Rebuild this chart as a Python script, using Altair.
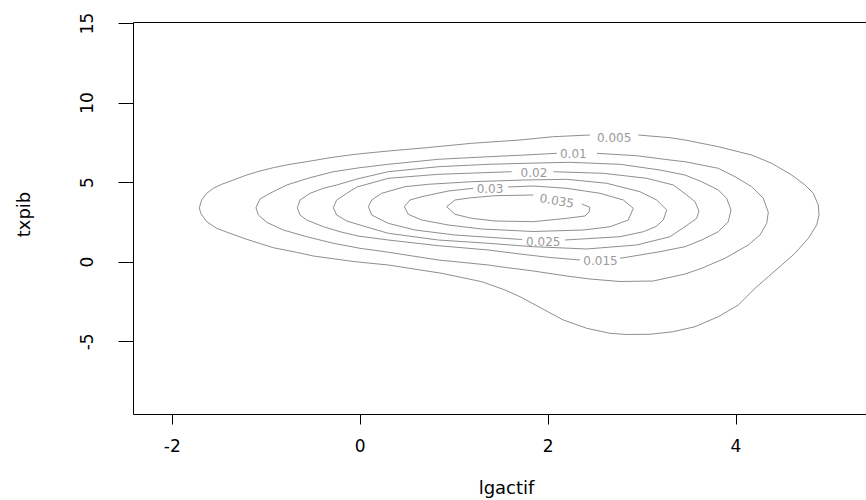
import altair as alt
import pandas as pd

# contour levels (density) and their label text
levels = ["0.005", "0.01", "0.015", "0.02", "0.025", "0.03", "0.035"]

# contour paths (lgactif, txpib); each path runs from
# one side of its label gap, around the ring, to the other side of the gap
c005_x = [2.965, 3.303, 3.462, 3.817, 4.172, 4.385, 4.598, 4.740, 4.828, 4.881, 4.889, 4.864, 4.775, 4.633,
          4.492, 4.349, 4.208, 4.030, 3.817, 3.569, 3.338, 3.090, 2.842, 2.664, 2.416, 2.167, 1.919, 1.706,
          1.547, 1.299, 0.873, 0.304, -0.050, -0.316, -0.494, -0.671, -0.920, -1.203, -1.381, -1.522, -1.629,
          -1.692, -1.707, -1.682, -1.629, -1.558, -1.469, -1.345, -1.203, -1.061, -0.920, -0.742, -0.564,
          -0.316, -0.050, 0.304, 0.713, 1.192, 1.706, 2.061, 2.451]
c005_y = [7.958, 7.789, 7.645, 7.224, 6.702, 6.181, 5.446, 4.818, 4.296, 3.562, 2.933, 2.305, 1.470, 0.528,
          -0.207, -0.942, -1.671, -2.720, -3.455, -4.083, -4.397, -4.560, -4.573, -4.497, -4.183, -3.662,
          -2.877, -2.198, -1.778, -1.256, -0.729, -0.207, 0.000, 0.214, 0.358, 0.590, 0.879, 1.407, 1.784,
          2.098, 2.513, 3.040, 3.392, 3.876, 4.296, 4.611, 4.862, 5.132, 5.446, 5.697, 5.905, 6.118, 6.281,
          6.533, 6.746, 6.953, 7.161, 7.437, 7.645, 7.852, 7.958]

c010_x = [2.523, 2.948, 3.303, 3.462, 3.817, 3.995, 4.172, 4.296, 4.349, 4.332, 4.261, 4.136, 3.888, 3.640,
          3.462, 3.125, 2.771, 2.451, 2.203, 1.848, 1.493, 1.369, 0.837, 0.269, 0.003, -0.281, -0.564, -0.813,
          -0.990, -1.079, -1.104, -1.061, -0.955, -0.777, -0.529, -0.281, 0.003, 0.304, 0.837, 1.369, 1.759,
          2.097]
c010_y = [6.809, 6.658, 6.388, 6.281, 5.867, 5.339, 4.711, 3.982, 3.103, 2.412, 1.677, 1.049, 0.214, -0.415,
          -0.773, -1.212, -1.244, -1.087, -0.898, -0.584, -0.314, -0.207, 0.107, 0.628, 0.842, 1.156, 1.570,
          1.991, 2.475, 2.933, 3.392, 3.938, 4.296, 4.818, 5.276, 5.653, 5.905, 6.118, 6.432, 6.595, 6.702,
          6.809]

c015_x = [2.771, 3.196, 3.462, 3.640, 3.817, 3.923, 3.952, 3.906, 3.817, 3.640, 3.462, 3.196, 2.771, 2.238,
          1.759, 1.369, 0.837, 0.304, -0.029, -0.245, -0.387, -0.529, -0.635, -0.664, -0.635, -0.564, -0.387,
          -0.210, -0.018, 0.304, 0.837, 1.369, 1.706, 2.026, 2.345]
c015_y = [0.214, 0.628, 0.942, 1.363, 1.884, 2.513, 3.247, 3.982, 4.504, 5.025, 5.446, 5.760, 6.118, 6.244,
          6.181, 6.118, 5.967, 5.653, 5.195, 4.818, 4.611, 4.296, 3.876, 3.392, 2.933, 2.619, 2.198, 1.884,
          1.614, 1.363, 1.005, 0.735, 0.484, 0.264, 0.107]

c020_x = [2.061, 2.593, 3.055, 3.338, 3.481, 3.569, 3.611, 3.587, 3.462, 3.303, 2.948, 2.416, 1.848, 1.369,
          0.837, 0.304, 0.003, -0.138, -0.245, -0.281, -0.245, -0.138, -0.029, 0.304, 0.837, 1.618]
c020_y = [5.653, 5.553, 5.239, 4.818, 4.190, 3.769, 3.185, 2.726, 2.198, 1.570, 1.049, 0.798, 0.942, 1.156,
          1.363, 1.784, 2.305, 2.557, 2.933, 3.392, 3.876, 4.296, 4.692, 5.239, 5.490, 5.653]

c025_x = [2.185, 2.771, 3.019, 3.154, 3.231, 3.268, 3.161, 2.983, 2.629, 2.203, 1.759, 1.192, 0.730, 0.482,
          0.234, 0.128, 0.092, 0.128, 0.304, 0.589, 1.014, 1.440, 1.728]
c025_y = [1.363, 1.570, 1.884, 2.211, 2.619, 3.247, 3.876, 4.397, 4.925, 5.176, 5.132, 5.025, 4.862, 4.711,
          4.296, 3.876, 3.455, 2.933, 2.412, 1.991, 1.677, 1.508, 1.394]

c030_x = [1.578, 1.848, 2.203, 2.558, 2.806, 2.912, 2.859, 2.664, 2.380, 1.848, 1.299, 0.943, 0.660, 0.517,
          0.475, 0.535, 0.660, 0.943, 1.209]
c030_y = [4.692, 4.755, 4.611, 4.296, 3.876, 3.354, 2.619, 2.198, 1.991, 1.897, 2.054, 2.305, 2.619, 2.977,
          3.455, 3.876, 4.083, 4.441, 4.611]

c035_x = [2.363, 2.451, 2.441, 2.398, 2.203, 1.848, 1.440, 1.192, 1.014, 0.926, 1.014, 1.192, 1.440, 1.848]
c035_y = [3.624, 3.417, 3.122, 2.871, 2.726, 2.513, 2.557, 2.726, 2.977, 3.455, 3.876, 4.020, 4.146, 4.190]

# label positions (data units) and rotation
lab_x = [2.708, 2.274, 2.563, 1.855, 1.954, 1.387, 2.097]
lab_y = [7.751, 6.746, 0.044, 5.553, 1.256, 4.567, 3.813]
lab_angle = [0, 0, 0, 0, 0, 0, 10]

x_ticks = [-2, 0, 2, 4]
y_ticks = [-5, 0, 5, 10, 15]
x_domain = [-2.413, 5.389]
y_domain = [-9.567, 15.057]

paths_x = [c005_x, c010_x, c015_x, c020_x, c025_x, c030_x, c035_x]
paths_y = [c005_y, c010_y, c015_y, c020_y, c025_y, c030_y, c035_y]
rows = []
for lev, xs, ys in zip(levels, paths_x, paths_y):
    for i, (a, b) in enumerate(zip(xs, ys)):
        rows.append({"level": lev, "i": i, "x": a, "y": b})
lines_df = pd.DataFrame(rows)
lab_df = pd.DataFrame({"level": levels, "x": lab_x, "y": lab_y, "angle": lab_angle})

FONT = "DejaVu Sans"
xscale = alt.Scale(domain=x_domain, nice=False, zero=False)
yscale = alt.Scale(domain=y_domain, nice=False, zero=False)

x_axis = alt.Axis(values=x_ticks, orient="bottom", grid=False, domainColor="black", domainWidth=1,
                  tickColor="black", tickWidth=1, tickSize=10,
                  labelFont=FONT, labelFontSize=17, labelColor="black", labelBaseline="alphabetic",
                  labelAlign="center", labelPadding=27, labelFlush=False, labelOverlap=False,
                  labelExpr="'' + datum.value",
                  title="lgactif", titleFont=FONT, titleFontSize=18, titleFontWeight="normal",
                  titleColor="black", titleX=373, titleY=79, titleBaseline="alphabetic",
                  titleAlign="center")
y_axis = alt.Axis(values=y_ticks, orient="left", grid=False, domainColor="black", domainWidth=1,
                  tickColor="black", tickWidth=1, tickSize=15,
                  labelFont=FONT, labelFontSize=17, labelColor="black", labelAngle=270,
                  labelAlign="center", labelBaseline="alphabetic", labelPadding=26,
                  labelFlush=False, labelOverlap=False, labelExpr="'' + datum.value",
                  title="txpib", titleFont=FONT, titleFontSize=18, titleFontWeight="normal",
                  titleColor="black", titleAngle=270, titleX=-104, titleY=192,
                  titleBaseline="alphabetic", titleAlign="center")
top_axis = alt.Axis(orient="top", grid=False, ticks=False, labels=False, title="",
                    domainColor="black", domainWidth=1)

lines = alt.Chart(lines_df).mark_line(color="#8f8f8f", strokeWidth=1).encode(
    x=alt.X("x:Q", scale=xscale, axis=x_axis),
    y=alt.Y("y:Q", scale=yscale, axis=y_axis),
    detail="level:N",
    order="i:Q",
)

labels = alt.Chart(lab_df).mark_text(font=FONT, fontSize=12, color="#9a9a9a",
                                     baseline="middle", align="center").encode(
    x=alt.X("x:Q", scale=xscale, axis=top_axis),
    y=alt.Y("y:Q", scale=yscale, axis=y_axis),
    text="level:N",
    angle=alt.Angle("angle:Q", scale=None),
)

chart = alt.layer(lines, labels).resolve_axis(x="independent").properties(
    width=733, height=392,
    autosize=alt.AutoSizeParams(type="none"),
    padding={"left": 133, "top": 22, "right": 0, "bottom": 86},
    background="white",
).configure_view(strokeWidth=0)

chart.save("out.html", embed_options={"renderer": "svg", "actions": False})
